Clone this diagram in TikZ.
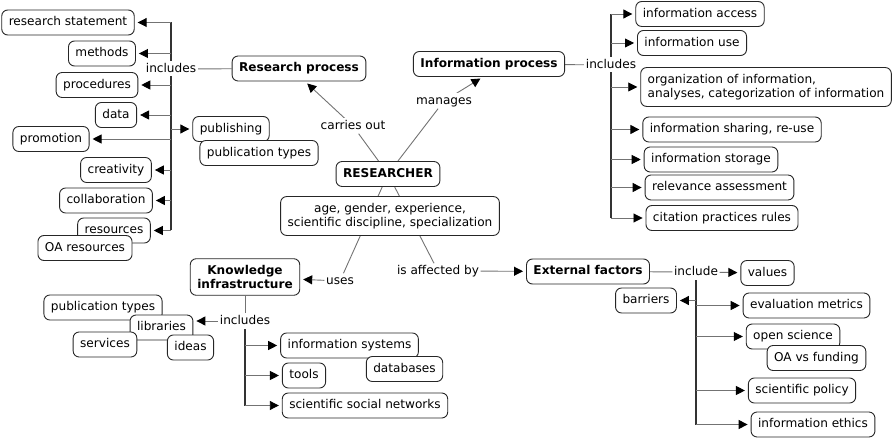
\documentclass[tikz,border=0pt]{standalone}
\usepackage{fontspec}
\setmainfont{DejaVu Sans}
\usepackage{tikz}
\usetikzlibrary{arrows.meta}
\usetikzlibrary{backgrounds}
\newcommand{\mapfont}{\fontsize{12.1}{14.2}\selectfont}
\tikzset{
  concept/.style={draw=black!85, line width=0.9pt, rounded corners=6pt, fill=white,
                  inner xsep=7pt, inner ysep=6.5pt, text height=9.3pt, text depth=2.7pt},
  keyconcept/.style={concept, font=\mapfont\bfseries},
  multiconcept/.style={draw=black!85, line width=0.9pt, rounded corners=6pt, fill=white,
                  inner xsep=7pt, inner ysep=6.5pt},
  phrase/.style={fill=white, inner sep=1.5pt, text height=9.3pt, text depth=2.7pt},
  link/.style={draw=black!55, line width=0.9pt},
  bus/.style={draw=black!80, line width=1.2pt},
  linkarrow/.style={-{Triangle[length=9pt,width=9pt,color=black]}, shorten >=3pt}
}

\begin{document}
\begin{tikzpicture}[x=1pt, y=-1pt, font=\mapfont]
        \useasboundingbox (0,0) rectangle (893,438);

        \node[concept] (rs)    at ( 68, 22.5) {research statement};
        \node[concept] (meth)  at (102, 53.5) {methods};
        \node[concept] (proc)  at ( 97, 85)   {procedures};
        \node[concept] (data)  at (116,115)   {data};
        \node[concept] (prom)  at ( 51,139)   {promotion};
        \node[concept] (crea)  at (116,170)   {creativity};
        \node[concept] (coll)  at (106,200.5) {collaboration};
        \node[concept] (rsrc)  at (114,230.5) {resources};
        \node[concept] (oares) at ( 85,248)   {OA resources};
        \node[phrase]  (inc1)  at (171, 69)   {includes};
        \node[keyconcept] (rp) at (299, 68.5) {Research process};
        \node[concept] (pub)   at (231,129)   {publishing};
        \node[concept] (pubt)  at (259,153)   {publication types};

        \node[phrase]  (carr)  at (353,126)   {carries out};
        \node[keyconcept] (resr) at (388,174) {RESEARCHER};
        \node[multiconcept, align=center] (attr) at (390,216)
              {age, gender, experience,\\ scientific discipline, specialization};
        \node[phrase]  (man)   at (444,101)   {manages};

        \node[keyconcept] (ip) at (489, 64)   {Information process};
        \node[phrase]  (inc2)  at (611, 65)   {includes};
        \node[concept] (iacc)  at (700, 14)   {information access};
        \node[concept] (iuse)  at (692, 43)   {information use};
        \node[multiconcept, align=left] (iorg) at (766, 87)
              {organization of information,\\ analyses, categorization of information};
        \node[concept] (ishr)  at (732,129.5) {information sharing, re-use};
        \node[concept] (isto)  at (711,159.5) {information storage};
        \node[concept] (rel)   at (719.5,187.5) {relevance assessment};
        \node[concept] (cit)   at (722,218)   {citation practices rules};

        \node[phrase]  (uses)  at (340,281)   {uses};
        \node[multiconcept, align=center, font=\mapfont\bfseries] (ki) at (245,277)
              {Knowledge\\ infrastructure};
        \node[phrase]  (inc3)  at (245,321)   {includes};
        \node[concept] (pubt2) at (103,307.5) {publication types};
        \node[concept] (lib)   at (161.5,327.5) {libraries};
        \node[concept] (serv)  at (105,344.5) {services};
        \node[concept] (idea)  at (190.5,347.5) {ideas};
        \node[concept] (isys)  at (349.5,345.5) {information systems};
        \node[concept] (dbs)   at (404.5,369) {databases};
        \node[concept] (tools) at (304,375.5) {tools};
        \node[concept] (ssn)   at (365,405.5) {scientific social networks};

        \node[phrase]  (aff)   at (438,271)   {is affected by};
        \node[keyconcept] (ext) at (588,271.5) {External factors};
        \node[phrase]  (inc4)  at (696,272)   {include};
        \node[concept] (val)   at (767.5,273) {values};
        \node[concept] (barr)  at (646,300.5) {barriers};
        \node[concept] (evm)   at (806.5,305.5) {evaluation metrics};
        \node[concept] (osci)  at (793,336.5) {open science};
        \node[concept] (oafund) at (816.5,358) {OA vs funding};
        \node[concept] (spol)  at (802,390.5) {scientific policy};
        \node[concept] (ieth)  at (813,424.5) {information ethics};

        \begin{scope}[on background layer]
            \draw[link] (resr) -- (carr);
            \draw[link,linkarrow] (carr) -- ([xshift=6]rp.south);
            \draw[link] (resr) -- (man);
            \draw[link,linkarrow] (man) -- ([xshift=-6]ip.south);
            \draw[link] (resr) -- (uses);
            \draw[link,linkarrow] (uses) -- (ki);
            \draw[link] (resr) -- (aff);
            \draw[link,linkarrow] (aff) -- (ext);

            \draw[link] (rp) -- (inc1);
            \draw[bus] (inc1 |- rs) -- (inc1 |- rsrc);
            \foreach \n in {rs,meth,proc,data,prom,crea,coll,rsrc,pub}
                \draw[link,linkarrow] (inc1 |- \n) -- (\n);

            \draw[link] (ip) -- (inc2);
            \draw[bus] (inc2 |- iacc) -- (inc2 |- cit);
            \foreach \n in {iacc,iuse,iorg,ishr,isto,rel,cit}
                \draw[link,linkarrow] (inc2 |- \n) -- (\n);

            \draw[link] (ki) -- (inc3);
            \draw[link,linkarrow] (inc3) -- (inc3 -| lib.east);
            \draw[bus] (inc3) -- (inc3 |- ssn);
            \foreach \n in {isys,tools,ssn}
                \draw[link,linkarrow] (inc3 |- \n) -- (\n);

            \draw[link] (ext) -- (inc4);
            \draw[link,linkarrow] (inc4) -- (val);
            \draw[bus] (inc4) -- (inc4 |- ieth);
            \foreach \n in {barr,evm,osci,spol,ieth}
                \draw[link,linkarrow] (inc4 |- \n) -- (\n);
        \end{scope}
    \end{tikzpicture}
\end{document}
